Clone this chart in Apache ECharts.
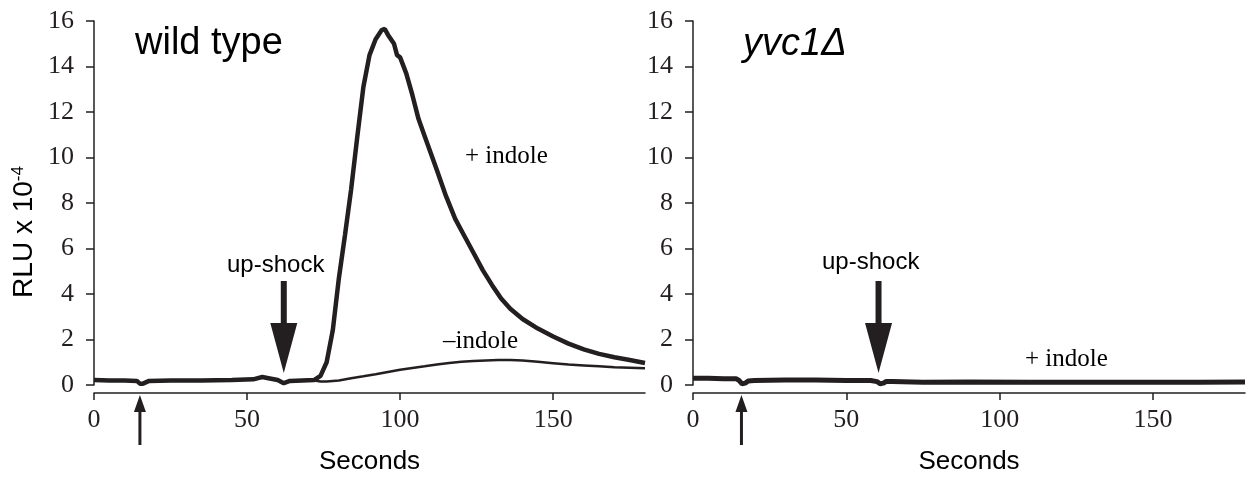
<!DOCTYPE html>
<html>
<head>
<meta charset="utf-8">
<title>RLU - wild type / yvc1</title>
<script src="https://cdn.jsdelivr.net/npm/echarts@6/dist/echarts.min.js"></script>
<style>
html, body { margin: 0; padding: 0; background: #fff; }
#chart { width: 1254px; height: 477px; }
</style>
</head>
<body>
<div id="chart"></div>
<script>
// 读图得到的数据 (秒, RLU x 10^-4)
var wtPlusTime = [0, 5, 10, 14, 15, 16, 18, 25, 35, 45, 52, 55, 57, 60, 62, 64, 68, 72, 74, 76, 78, 80, 82, 84, 86, 88, 90, 92, 94, 95, 96, 98, 99, 100, 102, 104, 106, 108, 110, 112, 115, 118, 121, 124, 127, 130, 133, 136, 140, 145, 150, 155, 160, 165, 170, 175, 180];
var wtPlusValue = [0.22, 0.2, 0.2, 0.18, 0.06, 0.06, 0.18, 0.2, 0.2, 0.22, 0.25, 0.35, 0.3, 0.22, 0.08, 0.18, 0.2, 0.22, 0.4, 1.0, 2.4, 4.7, 6.6, 8.6, 10.9, 13.1, 14.5, 15.2, 15.6, 15.65, 15.4, 15.0, 14.5, 14.4, 13.7, 12.75, 11.7, 10.95, 10.2, 9.45, 8.3, 7.3, 6.55, 5.8, 5.05, 4.4, 3.8, 3.35, 2.9, 2.48, 2.13, 1.82, 1.57, 1.37, 1.22, 1.1, 0.97];

var wtMinusTime = [72, 74, 76, 80, 84, 88, 92, 96, 100, 104, 108, 112, 116, 120, 124, 128, 132, 136, 140, 145, 150, 155, 160, 165, 170, 175, 180];
var wtMinusValue = [0.2, 0.15, 0.15, 0.2, 0.3, 0.38, 0.47, 0.57, 0.67, 0.75, 0.82, 0.9, 0.97, 1.02, 1.05, 1.08, 1.1, 1.1, 1.08, 1.02, 0.96, 0.9, 0.86, 0.82, 0.78, 0.76, 0.74];

var yvcTime = [0, 5, 10, 14, 15, 16, 17, 18, 20, 30, 40, 50, 58, 60, 61, 62, 63, 65, 75, 90, 110, 130, 150, 165, 180];
var yvcValue = [0.3, 0.3, 0.28, 0.28, 0.2, 0.05, 0.08, 0.18, 0.2, 0.22, 0.22, 0.2, 0.2, 0.15, 0.05, 0.08, 0.15, 0.15, 0.12, 0.13, 0.12, 0.12, 0.12, 0.12, 0.13];

// 刻度
var xTicks = [0, 50, 100, 150];

// 箭头位置 (秒)
var shockTime = [62, 60.5];
var addTime = [15, 15.8];

var ink = '#231f20';

function zip(xs, ys) {
	var out = [];
	for (var i = 0; i < xs.length; i++) {
		out.push([xs[i], ys[i]]);
	}
	return out;
}

// up-shock 大箭头
var bigArrow = 'path://M10.5 0 L16.5 0 L16.5 42 L27 42 L13.5 92 L0 42 L10.5 42 Z';

function shockArrow(t) {
	return {
		silent: true,
		animation: false,
		label: { show: false },
		data: [{
			coord: [t, 0.53],
			symbol: bigArrow,
			symbolSize: [27, 92],
			symbolOffset: [0, '-50%'],
			itemStyle: { color: ink }
		}]
	};
}

function xAxis(grid) {
	return {
		type: 'value',
		gridIndex: grid,
		min: 0,
		max: 180,
		offset: 8,
		name: 'Seconds',
		nameLocation: 'middle',
		nameGap: 56,
		nameTextStyle: { fontFamily: 'Liberation Sans', fontSize: 26, color: '#000' },
		axisLine: { show: true, onZero: false, lineStyle: { color: ink, width: 1.5 } },
		axisTick: { show: true, length: 7, customValues: xTicks, lineStyle: { color: ink, width: 1.5 } },
		axisLabel: { customValues: xTicks, margin: 14, fontFamily: 'Liberation Serif', fontSize: 26, color: ink },
		splitLine: { show: false }
	};
}

function yAxis(grid) {
	return {
		type: 'value',
		gridIndex: grid,
		min: 0,
		max: 16,
		interval: 2,
		axisLine: { show: true, lineStyle: { color: ink, width: 1.5 } },
		axisTick: { show: true, length: 8, lineStyle: { color: ink, width: 1.5 } },
		axisLabel: { margin: 20, fontFamily: 'Liberation Serif', fontSize: 26, color: ink },
		splitLine: { show: false }
	};
}

function label(text, left, top, font) {
	return {
		type: 'text',
		left: left,
		top: top,
		style: { text: text, font: font, fill: '#000' }
	};
}

var chart = echarts.init(document.getElementById('chart'));

var option = {
	animation: false,
	backgroundColor: '#fff',
	grid: [
		{ left: 94, right: 609, top: 21, bottom: 92, outerBoundsMode: 'none' },
		{ left: 693, right: 9, top: 21, bottom: 92, outerBoundsMode: 'none' }
	],
	xAxis: [xAxis(0), xAxis(1)],
	yAxis: [yAxis(0), yAxis(1)],
	series: [
		{
			name: '-indole',
			type: 'line',
			xAxisIndex: 0,
			yAxisIndex: 0,
			showSymbol: false,
			symbol: 'none',
			lineStyle: { color: ink, width: 2.5 },
			data: zip(wtMinusTime, wtMinusValue)
		},
		{
			name: '+indole',
			type: 'line',
			xAxisIndex: 0,
			yAxisIndex: 0,
			showSymbol: false,
			symbol: 'none',
			lineStyle: { color: ink, width: 4.5 },
			data: zip(wtPlusTime, wtPlusValue),
			markPoint: shockArrow(shockTime[0])
		},
		{
			name: 'yvc1 +indole',
			type: 'line',
			xAxisIndex: 1,
			yAxisIndex: 1,
			showSymbol: false,
			symbol: 'none',
			lineStyle: { color: ink, width: 5 },
			data: zip(yvcTime, yvcValue),
			markPoint: shockArrow(shockTime[1])
		}
	]
};

chart.setOption(option);

// 纵轴标题 (带上标), 面板标题与注释
var texts = [
	{
		type: 'text',
		x: 24,
		y: 232,
		rotation: Math.PI / 2,
		style: {
			text: 'RLU x 10{sup|-4}',
			font: '28px "Liberation Sans"',
			fill: '#000',
			align: 'center',
			verticalAlign: 'middle',
			rich: {
				sup: { font: '17px "Liberation Sans"', fill: '#000', verticalAlign: 'top' }
			}
		}
	},
	label('wild type', 135, 25, '38px "Liberation Sans"'),
	label('yvc1\u0394', 743, 25, 'italic 38px "Liberation Sans"'),
	label('up-shock', 227, 253, '24px "Liberation Sans"'),
	label('up-shock', 822, 250, '24px "Liberation Sans"'),
	label('+ indole', 465, 144, '25px "Liberation Serif"'),
	label('\u2013indole', 443, 329, '25px "Liberation Serif"'),
	label('+ indole', 1025, 347, '25px "Liberation Serif"')
];

// 加药的小箭头 (在横轴下方)
function addArrow(grid, t) {
	var p = chart.convertToPixel({ gridIndex: grid }, [t, 0]);
	var x = p[0], tip = p[1] + 10, neck = tip + 17, end = p[1] + 60;
	return {
		type: 'polygon',
		shape: {
			points: [[x, tip], [x + 6, neck], [x + 1.5, neck], [x + 1.5, end], [x - 1.5, end], [x - 1.5, neck], [x - 6, neck]]
		},
		style: { fill: ink }
	};
}
texts.push(addArrow(0, addTime[0]));
texts.push(addArrow(1, addTime[1]));

chart.setOption({ graphic: texts });
</script>
</body>
</html>
